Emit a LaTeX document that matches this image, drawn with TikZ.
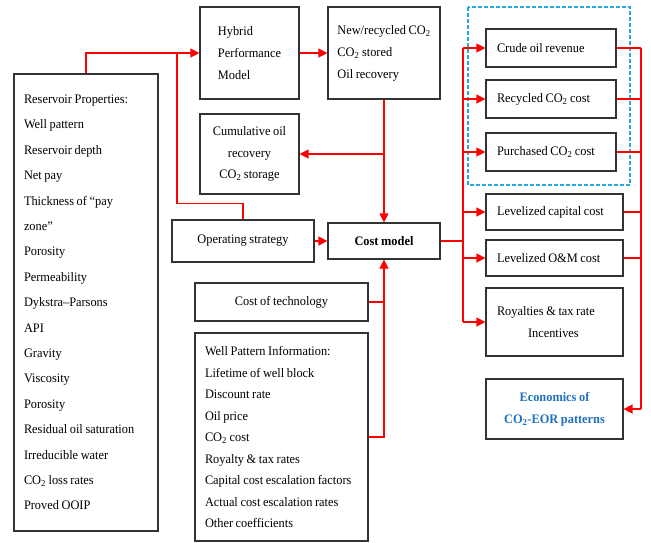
\documentclass[tikz,border=0pt]{standalone}
\usepackage{fontspec}
\setmainfont{Liberation Serif}[FakeStretch=0.95, WordSpace=0.85]
\usetikzlibrary{arrows.meta}

\newcommand{\cotwo}{CO\textsubscript{2}}
\definecolor{dashcyan}{RGB}{41,171,226}
\definecolor{econblue}{RGB}{30,112,192}

\tikzset{
  blk/.style={draw=black!80, line width=1.2pt, inner sep=0pt, font=\fontsize{13}{22}\selectfont},
  lst/.style={align=left, execute at begin node={\spaceskip=\fontdimen2\font\relax}},
  wire/.style={red, line width=1.3pt},
  link/.style={wire, -{Triangle[length=9pt,width=9pt]}},
}

\begin{document}
\begin{tikzpicture}[x=1pt,y=-1pt]
    \useasboundingbox (0,0) rectangle (651,542);

    % input side
    \node[blk, lst, minimum width=144pt, minimum height=457pt, text width=124pt,
          font=\fontsize{13}{25.4}\selectfont] (res) at (86,302.5)
         {Reservoir Properties:\\ Well pattern\\ Reservoir depth\\ Net pay\\ Thickness of ``pay\\ zone''\\ Porosity\\
          Permeability\\ Dykstra--Parsons\\ API\\ Gravity\\ Viscosity\\ Porosity\\ Residual oil saturation\\
          Irreducible water\\ \cotwo{} loss rates\\ Proved OOIP};
    \node[blk, align=left, minimum width=99pt, minimum height=92pt] (hyb) at (249.5,53)
         {Hybrid\\ Performance\\ Model};
    \node[blk, align=left, minimum width=112pt, minimum height=92pt] (new) at (384,53)
         {New/recycled \cotwo\\ \cotwo{} stored\\ Oil recovery};
    \node[blk, minimum width=99pt, minimum height=80pt, align=center, font=\fontsize{13}{21.5}\selectfont] (cum) at (249.5,154)
         {Cumulative oil\\ recovery\\ \cotwo{} storage};
    \node[blk, minimum width=142pt, minimum height=42pt] (ops) at (243,241) {Operating strategy};
    \node[blk, minimum width=112pt, minimum height=36pt, font=\fontsize{13}{14}\selectfont\bfseries] (cost) at (384,241) {Cost model};
    \node[blk, minimum width=173pt, minimum height=38pt] (tech) at (281.5,302) {Cost of technology};
    \node[blk, lst, minimum width=173pt, minimum height=208pt, text width=153pt,
          font=\fontsize{13}{21.5}\selectfont] (well) at (281.5,437)
         {Well Pattern Information:\\ Lifetime of well block\\ Discount rate\\ Oil price\\ \cotwo{} cost\\
          Royalty \& tax rates\\ Capital cost escalation factors\\ Actual cost escalation rates\\ Other coefficients};

    % output side
    \draw[dashcyan, line width=1.3pt, dash pattern=on 4pt off 2pt] (468,7) rectangle (630,185);
    \node[blk, lst, minimum width=130pt, minimum height=38pt, text width=108pt] (crude) at (551,48) {Crude oil revenue};
    \node[blk, lst, minimum width=130pt, minimum height=38pt, text width=108pt] (recyc) at (551,99) {Recycled \cotwo{} cost};
    \node[blk, lst, minimum width=130pt, minimum height=38pt, text width=108pt] (purch) at (551,152) {Purchased \cotwo{} cost};
    \node[blk, lst, minimum width=137pt, minimum height=36pt, text width=115pt] (capit) at (554.5,212) {Levelized capital cost};
    \node[blk, lst, minimum width=137pt, minimum height=36pt, text width=115pt] (om) at (554.5,258) {Levelized O\&M cost};
    \node[blk, lst, minimum width=137pt, minimum height=68pt, text width=115pt] (roy) at (554.5,322)
         {Royalties \& tax rate\\ \hspace*{31pt}Incentives};
    \node[blk, minimum width=137pt, minimum height=60pt, align=center, text=econblue,
          font=\fontsize{13}{22}\selectfont\bfseries] (econ) at (554.5,409)
         {Economics of\\ \cotwo-EOR patterns};

    \coordinate (jn) at (177,53);
    \coordinate (lb) at (463,0);
    \coordinate (rb) at (641,0);

    % connectors
    \draw[link] (res.north) |- (hyb.west);
    \draw[wire] (ops.north) -- ++(0,-16) -| (jn);
    \draw[link] (hyb) -- (new);
    \draw[link] (new) -- (cost);
    \draw[link] (new.south |- cum.east) -- (cum.east);
    \draw[link] (ops.east) -- (ops.east -| cost.west);
    \draw[wire] (tech.east) -- (tech.east -| cost.south);
    \draw[link] (well.east) -| (cost.south);

    \draw[wire] (cost.east) -- (cost.east -| lb);
    \draw[wire] (lb |- crude.west) -- (lb |- roy.west);
    \foreach \b in {crude,recyc,purch,capit,om,roy}
        \draw[link] (lb |- \b.west) -- (\b.west);

    \foreach \b in {crude,recyc,purch,capit,om}
        \draw[wire] (\b.east) -- (\b.east -| rb);
    \draw[wire] (rb |- crude.east) -- (rb |- econ.east);
    \draw[link] (rb |- econ.east) -- (econ.east);
\end{tikzpicture}
\end{document}
